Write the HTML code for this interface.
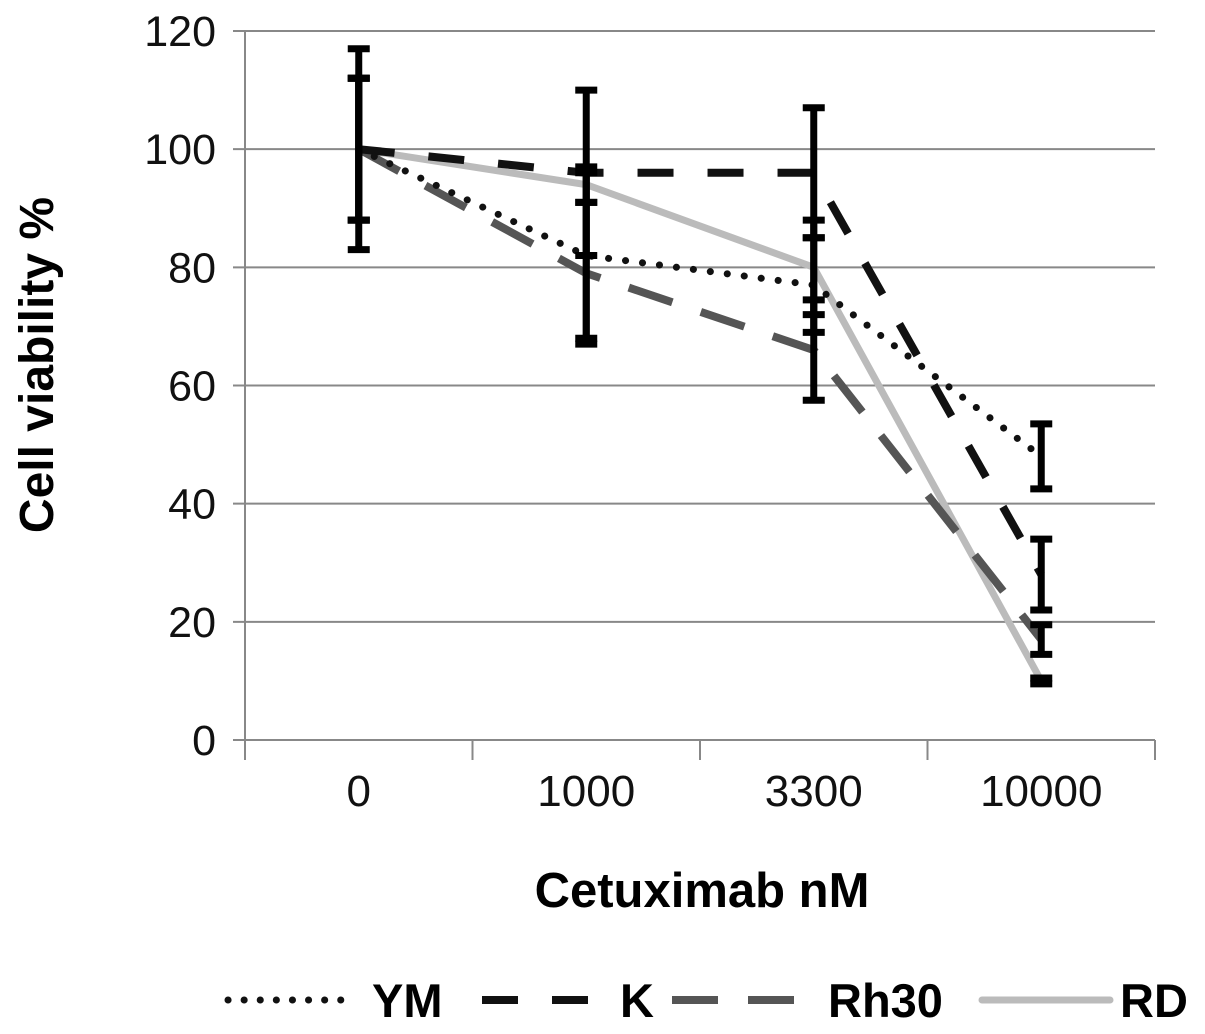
<!DOCTYPE html>
<html><head><meta charset="utf-8"><style>
body{margin:0;background:#fff}
svg text{font-family:"Liberation Sans",sans-serif}
</style></head><body>
<svg id="chart" width="1205" height="1029" viewBox="0 0 1205 1029" xmlns="http://www.w3.org/2000/svg">
<g id="grid"></g><g id="axes"></g><g id="series"></g><g id="errs"></g>
<text x="0" y="0" transform="translate(53,365) rotate(-90)" text-anchor="middle" font-size="48" font-weight="bold">Cell viability %</text>
<text x="702" y="907" text-anchor="middle" font-size="49" font-weight="bold">Cetuximab nM</text>
<g id="legend"></g>
</svg>
<script>
const categories=["0","1000","3300","10000"];
const yTicks=[0,20,40,60,80,100,120];
const seriesNames=["YM","K","Rh30","RD"];
const ymValues=[100,82,77,48];
const kValues=[100,96,96,28];
const rh30Values=[100,79,66,17];
const rdValues=[100,94,80,10];
const ymErr=[12,14,8,5.5];
const kErr=[17,14,11,6];
const rh30Err=[12,12,8.5,2.5];
const rdErr=[12,3,8,0.5];
const NS="http://www.w3.org/2000/svg";
const X0=245,X1=1155,Y0=740,Y1=31;
const step=(X1-X0)/categories.length;
const xs=i=>X0+step*(i+0.5);
const ys=v=>Y0-(v/120)*(Y0-Y1);
function mk(parent,tag,attrs){const e=document.createElementNS(NS,tag);for(const k in attrs)e.setAttribute(k,attrs[k]);document.getElementById(parent).appendChild(e);return e;}
yTicks.forEach(t=>{
  const l=mk("grid","line",{x1:X0-12,x2:X1,y1:ys(t),y2:ys(t),stroke:"#888","stroke-width":2});
  
  
  const tx=mk("axes","text",{x:216,y:ys(t)+15,"text-anchor":"end","font-size":43,fill:"#111"});
  tx.textContent=t;
  
  
});
const ax=mk("axes","line",{x1:X0,x2:X0,y1:Y1,y2:Y0+20,stroke:"#888","stroke-width":2});


for(let i=0;i<=categories.length;i++){
  const tk=mk("axes","line",{x1:X0+step*i,x2:X0+step*i,y1:Y0,y2:Y0+20,stroke:"#888","stroke-width":2});
  
  
}
categories.forEach((c,i)=>{
  const tx=mk("axes","text",{x:xs(i),y:806,"text-anchor":"middle","font-size":44,fill:"#111"});
  tx.textContent=c;
  
  
});
const styles=[
 {stroke:"#111",w:7,dash:"0.1 17",cap:"round"},
 {stroke:"#111",w:8,dash:"36 34",cap:"butt"},
 {stroke:"#555",w:8,dash:"46 30",cap:"butt"},
 {stroke:"#bbb",w:7,dash:"",cap:"round"}];
const allVals=[ymValues,kValues,rh30Values,rdValues];
const allErr=[ymErr,kErr,rh30Err,rdErr];
const drawOrder=[3,2,1,0];
drawOrder.forEach(s=>{
  const st=styles[s];
  const d=allVals[s].map((v,i)=>(i?"L":"M")+xs(i)+","+ys(v)).join(" ");
  const p=mk("series","path",{d:d,fill:"none",stroke:st.stroke,"stroke-width":st.w,"stroke-dasharray":st.dash,"stroke-linecap":st.cap,"stroke-linejoin":"round"});
  
  
});
allVals.forEach((vals,s)=>{
  vals.forEach((v,i)=>{
    const e=allErr[s][i],x=xs(i),hi=ys(v+e),lo=ys(v-e);
    const g=mk("errs","g",{});
    
    
    [[x,hi,x,lo],[x-11,hi,x+11,hi],[x-11,lo,x+11,lo]].forEach(a=>{
      const l=document.createElementNS(NS,"line");
      l.setAttribute("x1",a[0]);l.setAttribute("y1",a[1]);l.setAttribute("x2",a[2]);l.setAttribute("y2",a[3]);
      l.setAttribute("stroke","#000");l.setAttribute("stroke-width",7);
      g.appendChild(l);
    });
  });
});
const legX=[[228,355,372],[482,615,620],[672,815,828],[982,1110,1120]];
seriesNames.forEach((n,s)=>{
  const st=styles[s];
  const l=mk("legend","line",{x1:legX[s][0],x2:legX[s][1],y1:1000,y2:1000,stroke:st.stroke,"stroke-width":st.w,"stroke-dasharray":s==0?"0.1 16":st.dash,"stroke-linecap":st.cap});
  
  
  const t=mk("legend","text",{x:legX[s][2],y:1017,"font-size":47,"font-weight":"bold"});
  t.textContent=n;
  
  
});
</script>
</body></html>
